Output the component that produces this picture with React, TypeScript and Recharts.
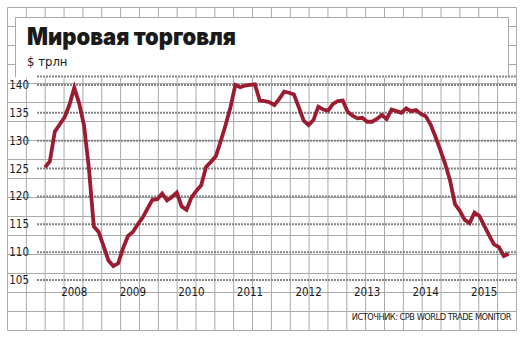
import { LineChart, Line, XAxis, YAxis, CartesianGrid } from "recharts";

// Monthly world trade, $ trillion, Jan 2008 .. Dec 2015 (index 0 = Jan 2008)
const TRADE_VALUES = [
  125.2, 126.3, 131.6, 132.9, 134.2, 136.4, 139.5, 136.7, 132.7, 125.0, 114.6, 113.6,
  111.1, 108.5, 107.5, 108.0, 110.7, 112.9, 113.6, 115.0, 116.2, 117.8, 119.4, 119.5,
  120.5, 119.3, 119.9, 120.7, 118.2, 117.6, 119.8, 121.0, 122.0, 125.3, 126.2, 127.2,
  129.9, 132.8, 136.0, 140.0, 139.6, 139.9, 140.0, 140.1, 137.2, 137.1, 136.9, 136.4,
  137.5, 138.8, 138.6, 138.3, 136.0, 133.6, 132.8, 133.7, 136.1, 135.6, 135.4, 136.6,
  137.1, 137.2, 135.2, 134.5, 134.0, 134.1, 133.4, 133.4, 133.9, 134.6, 133.9, 135.6,
  135.3, 135.0, 135.8, 135.3, 135.5, 134.8, 134.4, 132.9, 130.7, 128.3, 125.8, 122.8,
  118.6, 117.4, 115.8, 115.2, 117.1, 116.5, 114.7, 113.0, 111.4, 110.9, 109.3, 109.7,
];

// Year labels sit on July of each year
const YEARS = ["2008", "2009", "2010", "2011", "2012", "2013", "2014", "2015"];
const YEAR_TICKS = [6, 18, 30, 42, 54, 66, 78, 90];
const VALUE_TICKS = [105, 110, 115, 120, 125, 130, 135, 140];

const data = TRADE_VALUES.map((value, index) => ({ month: index, value }));

const GRID_COLOR = "#a9a9a9";
const LABEL_FONT = "'Liberation Sans Narrow', 'DejaVu Sans Condensed', Arial, sans-serif";

// Graph-paper background, purely decorative
function PaperGrid() {
  const xs = Array.from({ length: 28 }, (_, i) => 7.5 + i * 18.85);
  const ys = Array.from({ length: 18 }, (_, i) => 7.5 + i * 19);

  return (
    <svg width={525} height={340} style={{ position: "absolute", left: 0, top: 0 }}>
      {xs.map((x) => (
        <line key={`v${x}`} x1={x} x2={x} y1={7.5} y2={330.5} stroke={GRID_COLOR} strokeWidth={1} />
      ))}
      {ys.map((y) => (
        <line key={`h${y}`} x1={7.5} x2={516.5} y1={y} y2={y} stroke={GRID_COLOR} strokeWidth={1} />
      ))}

      {/* white title panel */}
      <rect x={15.5} y={17.5} width={493} height={60} fill="#fff" />
      <path d="M15.5 77 V17.5 H508.5 V77" fill="none" stroke={GRID_COLOR} strokeWidth={1} />

      <text x={27} y={45} fontFamily="Inter, 'DejaVu Sans', sans-serif" fontWeight={900} fontSize={24} fill="#1a1a1a" textLength={209} lengthAdjust="spacingAndGlyphs">
        Мировая торговля
      </text>
      <text x={27} y={66} fontFamily={LABEL_FONT} fontSize={13} fill="#1a1a1a">
        $ трлн
      </text>
      <text x={511} y={320} textAnchor="end" fontFamily={LABEL_FONT} fontSize={9.2} letterSpacing={-0.5} fill="#1a1a1a">
        ИСТОЧНИК: CPB WORLD TRADE MONITOR
      </text>
    </svg>
  );
}

export default function App() {
  return (
    <div style={{ position: "absolute", left: 0, top: 0, width: 525, height: 340, background: "#fff", overflow: "hidden" }}>
      <PaperGrid />
      <div style={{ position: "absolute", left: 0, top: 0 }}>
        <LineChart width={525} height={340} data={data} margin={{ top: 76.6, right: 9, bottom: 30, left: 7 }}>
          {/* dotted value lines */}
          <CartesianGrid vertical={false} stroke="#858585" strokeWidth={2} strokeDasharray="2 1" />

          <XAxis
            dataKey="month"
            type="number"
            domain={[-1.64, 96.5]}
            ticks={YEAR_TICKS}
            tickFormatter={(m: number) => YEARS[YEAR_TICKS.indexOf(m)]}
            axisLine={false}
            tickLine={false}
            allowDataOverflow
            tick={{ fontFamily: LABEL_FONT, fontSize: 11.5, fill: "#1a1a1a" }}
          />

          <YAxis
            type="number"
            domain={[105, 141.5]}
            ticks={VALUE_TICKS}
            axisLine={false}
            tickLine={false}
            width={30}
            allowDataOverflow
            tick={{ fontFamily: LABEL_FONT, fontSize: 11.5, fill: "#1a1a1a" }}
          />

          <Line
            type="linear"
            dataKey="value"
            stroke="#9b1c31"
            strokeWidth={3.8}
            dot={false}
            isAnimationActive={false}
          />
        </LineChart>
      </div>
    </div>
  );
}
